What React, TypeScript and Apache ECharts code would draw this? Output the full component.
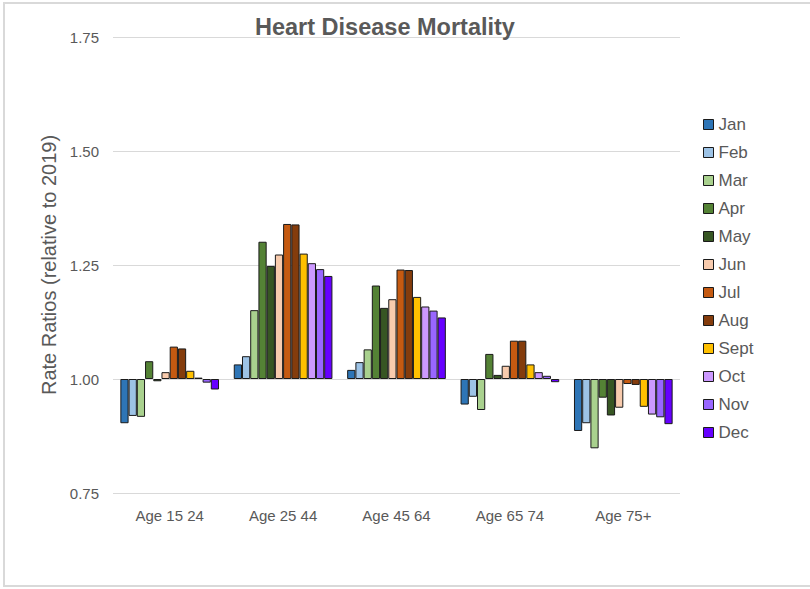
import React, { useEffect, useRef } from "react";
import * as echarts from "echarts";

const categories = ["Age 15 24", "Age 25 44", "Age 45 64", "Age 65 74", "Age 75+"];
const months = ["Jan", "Feb", "Mar", "Apr", "May", "Jun", "Jul", "Aug", "Sept", "Oct", "Nov", "Dec"];
const colors = ["#2e75b6", "#9dc3e6", "#a9d18e", "#548235", "#375623", "#f8cbad", "#c55a11", "#843c0c", "#ffc000", "#cc99ff", "#9966ff", "#6600ff"];

// rate ratios per month, one value per age group
const jan = [0.903, 1.032, 1.020, 0.944, 0.886];
const feb = [0.919, 1.050, 1.037, 0.961, 0.903];
const mar = [0.917, 1.151, 1.065, 0.932, 0.848];
const apr = [1.039, 1.301, 1.205, 1.055, 0.959];
const may = [0.995, 1.248, 1.156, 1.009, 0.920];
const jun = [1.015, 1.273, 1.175, 1.029, 0.937];
const jul = [1.071, 1.340, 1.240, 1.084, 0.989];
const aug = [1.067, 1.339, 1.239, 1.084, 0.987];
const sept = [1.018, 1.275, 1.180, 1.032, 0.939];
const oct = [1.003, 1.254, 1.159, 1.015, 0.922];
const nov = [0.992, 1.241, 1.150, 1.007, 0.916];
const dec = [0.977, 1.226, 1.135, 0.993, 0.901];
const monthValues = [jan, feb, mar, apr, may, jun, jul, aug, sept, oct, nov, dec];

const baseline = 1;
const yTicks = { min: 0.75, max: 1.75, interval: 0.25 };

export default function App() {
  const ref = useRef<HTMLDivElement>(null);
  useEffect(() => {
    if (!ref.current) return;
    const chart = echarts.init(ref.current, null, { renderer: "svg" });
    const font = "Liberation Sans, Arial, sans-serif";
    chart.setOption({
      animation: false,
      backgroundColor: "#ffffff",
      textStyle: { fontFamily: font },
      graphic: [
        {
          type: "rect",
          shape: { x: 4, y: 3, width: 830, height: 583 },
          style: { fill: "none", stroke: "#d9d9d9", lineWidth: 2 },
          silent: true,
        },
      ],
      title: {
        text: "Heart Disease Mortality",
        left: 250,
        top: 10,
        textStyle: { fontFamily: font, fontSize: 23.5, fontWeight: "bold", color: "#595959" },
      },
      legend: {
        orient: "vertical",
        left: 703,
        top: 116,
        padding: 0,
        itemWidth: 10,
        itemHeight: 10,
        itemGap: 11,
        icon: "rect",
        itemStyle: { borderColor: "#1a1a1a", borderWidth: 1 },
        textStyle: { fontFamily: font, fontSize: 17, color: "#595959" },
        data: months,
      },
      grid: { left: 113, right: 130, top: 37, bottom: 96 },
      xAxis: {
        type: "category",
        data: categories,
        axisLine: { show: false },
        axisTick: { show: false },
        axisLabel: { fontFamily: font, fontSize: 15, color: "#595959", margin: 15 },
      },
      yAxis: {
        type: "value",
        min: yTicks.min - baseline,
        max: yTicks.max - baseline,
        interval: yTicks.interval,
        name: "Rate Ratios (relative to 2019)",
        nameLocation: "middle",
        nameGap: 47,
        nameTextStyle: { fontFamily: font, fontSize: 20, color: "#595959" },
        axisLabel: {
          fontFamily: font,
          fontSize: 15,
          color: "#595959",
          margin: 14,
          formatter: (v: number) => (v + baseline).toFixed(2),
        },
        splitLine: { lineStyle: { color: "#d9d9d9", width: 1 } },
        axisLine: { show: false },
        axisTick: { show: false },
      },
      series: months.map((m, i) => ({
        name: m,
        type: "bar",
        barGap: "0%",
        barCategoryGap: "13%",
        itemStyle: { color: colors[i], borderColor: "#1a1a1a", borderWidth: 1 },
        data: monthValues[i].map((v) => +(v - baseline).toFixed(4)),
      })),
    });
    return () => chart.dispose();
  }, []);
  return <div ref={ref} style={{ width: 810, height: 589, position: "absolute", left: 0, top: 0 }} />;
}
